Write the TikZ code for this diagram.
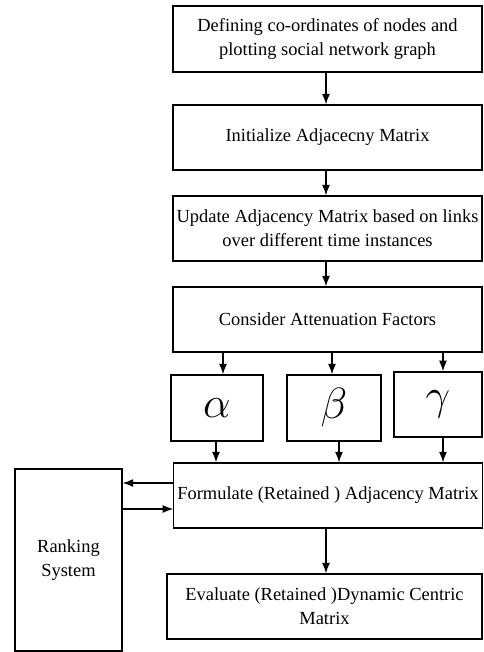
\documentclass[tikz,border=0pt]{standalone}
\usepackage{fontspec}
\setmainfont{Liberation Serif}
\usetikzlibrary{arrows.meta}
\tikzset{
    stepbox/.style={draw, line width=0.7pt, align=center, inner sep=2pt,
        minimum width=6.18cm, minimum height=1.3cm, font=\fontsize{10.5}{13.5}\selectfont},
    factor/.style={draw, line width=0.7pt, minimum height=1.32cm,
        font=\fontsize{25}{30}\selectfont},
    arr/.style={line width=0.7pt, -{Latex[length=6pt,width=4.5pt]}}
}
\begin{document}
\begin{tikzpicture}
    \useasboundingbox (0,0) rectangle (9.66,-13.04);

    \node[stepbox, minimum height=1.32cm] (define) at (6.55,-0.78)
        {Defining co-ordinates of nodes and\\plotting social network graph};
    \node[stepbox] (init) at (6.55,-2.75) {Initialize Adjacecny Matrix};
    \node[stepbox] (update) at (6.55,-4.57)
        {Update Adjacency Matrix based on links\\over different time instances};
    \node[stepbox] (consider) at (6.55,-6.39) {Consider Attenuation Factors};

    \node[factor, minimum width=1.84cm] (alpha) at (4.34,-8.16) {$\alpha$};
    \node[factor, minimum width=1.88cm] (beta) at (6.68,-8.16) {$\beta$};
    \node[factor, minimum width=1.76cm, minimum height=1.3cm, line width=0.9pt] (gamma) at (8.76,-8.09) {$\gamma$};

    \node[stepbox, minimum width=6.16cm] (formulate) at (6.56,-9.91)
        {Formulate (Retained ) Adjacency Matrix};
    \node[stepbox, minimum width=2.14cm, minimum height=3.64cm] (ranking) at (1.37,-11.2)
        {Ranking\\System};
    \node[stepbox, minimum width=6.3cm] (evaluate) at (6.49,-12.13)
        {Evaluate (Retained )Dynamic Centric\\Matrix};

    \draw[arr] ([xshift=-0.03cm]define.south) -- ([xshift=-0.03cm]define.south |- init.north);
    \draw[arr] ([xshift=-0.03cm]init.south) -- ([xshift=-0.03cm]init.south |- update.north);
    \draw[arr] ([xshift=-0.03cm]update.south) -- ([xshift=-0.03cm]update.south |- consider.north);

    \draw[arr] ([xshift=0.12cm]alpha.north |- consider.south) -- ([xshift=0.12cm]alpha.north);
    \draw[arr] ([xshift=-0.04cm]beta.north |- consider.south) -- ([xshift=-0.04cm]beta.north);
    \draw[arr] ([xshift=0.1cm]gamma.north |- consider.south) -- ([xshift=0.1cm]gamma.north);

    \draw[arr] ([xshift=-0.02cm]alpha.south) -- ([xshift=-0.02cm]alpha.south |- formulate.north);
    \draw[arr] ([xshift=0.1cm]beta.south) -- ([xshift=0.1cm]beta.south |- formulate.north);
    \draw[arr] ([xshift=0.1cm]gamma.south) -- ([xshift=0.1cm]gamma.south |- formulate.north);

    \draw[arr] ([yshift=0.25cm]formulate.west) -- ([yshift=0.25cm]formulate.west -| ranking.east);
    \draw[arr] ([yshift=-0.27cm]formulate.west -| ranking.east) -- ([yshift=-0.27cm]formulate.west);

    \draw[arr] ([xshift=-0.04cm]formulate.south) -- ([xshift=-0.04cm]formulate.south |- evaluate.north);
\end{tikzpicture}
\end{document}
